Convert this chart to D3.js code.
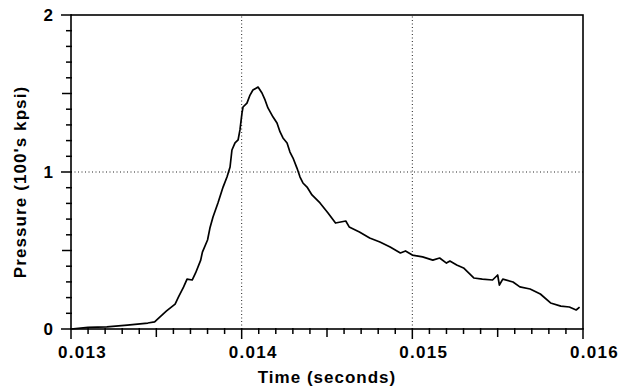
<!DOCTYPE html>
<html><head><meta charset="utf-8">
<script src="https://cdn.jsdelivr.net/npm/d3@7"></script>
<style>body{margin:0;background:#fff;} svg{display:block;font-family:"Liberation Sans",Arial,sans-serif;}</style>
</head><body>
<svg id="c" width="632" height="389"></svg>
<script>
const timeS = [0.01300,0.01310,0.01321,0.01333,0.01345,0.01349,0.01352,0.01356,0.01361,0.01363,0.01366,0.01368,0.01371,0.01373,0.01376,0.01377,0.01380,0.013814,0.013832,0.013861,0.013891,0.013914,0.013932,0.013943,0.013961,0.013979,0.013990,0.014002,0.014008,0.014031,0.014049,0.014066,0.014096,0.014119,0.014137,0.014154,0.014184,0.014207,0.014225,0.014242,0.014266,0.014283,0.014301,0.014324,0.014342,0.014359,0.014383,0.014412,0.014459,0.014506,0.01455,0.01461,0.01463,0.01469,0.01475,0.01481,0.01487,0.01493,0.01496,0.01500,0.01506,0.01512,0.01516,0.01520,0.01522,0.01526,0.01530,0.01536,0.01541,0.01547,0.01550,0.01551,0.01553,0.01559,0.01563,0.01569,0.01575,0.01581,0.01587,0.01592,0.01596,0.01598];
const pressure = [0.000,0.010,0.013,0.025,0.038,0.045,0.076,0.115,0.159,0.204,0.268,0.318,0.312,0.357,0.439,0.490,0.567,0.643,0.713,0.803,0.904,0.968,1.032,1.140,1.185,1.204,1.268,1.376,1.414,1.439,1.490,1.522,1.541,1.503,1.459,1.408,1.350,1.312,1.255,1.217,1.185,1.127,1.089,1.025,0.968,0.930,0.904,0.854,0.803,0.739,0.675,0.688,0.650,0.618,0.580,0.554,0.522,0.484,0.497,0.471,0.459,0.439,0.452,0.420,0.433,0.408,0.389,0.325,0.318,0.312,0.344,0.280,0.318,0.299,0.268,0.255,0.223,0.166,0.146,0.140,0.121,0.140];
const xTicks = [0.013,0.014,0.015,0.016];
const xTickLabels = ["0.013","0.014","0.015","0.016"];
const yTicks = [0,1,2];
const yTickLabels = ["0","1","2"];
const xTitle = "Time (seconds)";
const yTitle = "Pressure (100's kpsi)";

const svg = d3.select("#c");
const m = {l:71, t:15, r:49, b:60};
const W = 632, H = 389;
const x = d3.scaleLinear().domain([0.013,0.016]).range([m.l, W-m.r]);
const y = d3.scaleLinear().domain([0,2]).range([H-m.b, m.t]);

// grid (dotted)
svg.append("g").selectAll("line").data([0.014,0.015]).join("line")
  .attr("x1",d=>x(d)).attr("x2",d=>x(d)).attr("y1",y(0)).attr("y2",y(2))
  .attr("stroke","#222").attr("stroke-width",1).attr("stroke-dasharray","1,2.5");
svg.append("g").selectAll("line").data([1]).join("line")
  .attr("y1",d=>y(d)).attr("y2",d=>y(d)).attr("x1",x(0.013)).attr("x2",x(0.016))
  .attr("stroke","#222").attr("stroke-width",1).attr("stroke-dasharray","1,2.5");

// minor/major tick marks
const xMinor = d3.range(0,31);
const yMinor = d3.range(0,21);
svg.append("g").selectAll("line").data(xMinor).join("line")
  .attr("x1",i=>x(0.013+i*0.0001)).attr("x2",i=>x(0.013+i*0.0001))
  .attr("y1",y(0)-1).attr("y2",i=>y(0)+(i%10===0 ? 10 : (i%5===0 ? 8 : 5)))
  .attr("stroke","#000").attr("stroke-width",1.5);
svg.append("g").selectAll("line").data(yMinor).join("line")
  .attr("y1",i=>y(i*0.1)).attr("y2",i=>y(i*0.1))
  .attr("x1",x(0.013)+1).attr("x2",i=>x(0.013)-(i%10===0 ? 10 : (i%5===0 ? 9 : 5)))
  .attr("stroke","#000").attr("stroke-width",1.5);

// frame
svg.append("rect").attr("x",x(0.013)).attr("y",y(2)).attr("width",x(0.016)-x(0.013)).attr("height",y(0)-y(2))
  .attr("fill","none").attr("stroke","#000").attr("stroke-width",1.6);

// tick labels
const xAx = svg.append("g").attr("transform",`translate(11,${y(0)})`)
  .call(d3.axisBottom(x).tickValues(xTicks).tickSize(0).tickPadding(17).tickFormat((d,i)=>xTickLabels[i]));
xAx.select(".domain").remove();
xAx.selectAll("text").attr("font-size",17).attr("font-weight","bold").attr("letter-spacing","1.3px")
  .attr("font-family","'Liberation Sans',Arial,sans-serif").attr("fill","#000");
const yAx = svg.append("g").attr("transform",`translate(${x(0.013)-2},0)`)
  .call(d3.axisLeft(y).tickValues(yTicks).tickSize(0).tickPadding(16).tickFormat((d,i)=>yTickLabels[i]));
yAx.select(".domain").remove();
yAx.selectAll("text").attr("font-size",17).attr("font-weight","bold")
  .attr("font-family","'Liberation Sans',Arial,sans-serif").attr("fill","#000");

// titles
svg.append("text").attr("x",327).attr("y",383).attr("text-anchor","middle")
  .attr("font-size",17).attr("font-weight","bold").attr("letter-spacing","1px").text(xTitle);
svg.append("text").attr("transform","translate(26,182) rotate(-90)").attr("text-anchor","middle")
  .attr("font-size",17).attr("font-weight","bold").attr("letter-spacing","1.1px").text(yTitle);

// data line
const line = d3.line().x((d,i)=>x(timeS[i])).y(d=>y(d));
svg.append("path").datum(pressure).attr("d",line)
  .attr("fill","none").attr("stroke","#000").attr("stroke-width",1.7).attr("stroke-linejoin","round");
</script>
</body></html>
